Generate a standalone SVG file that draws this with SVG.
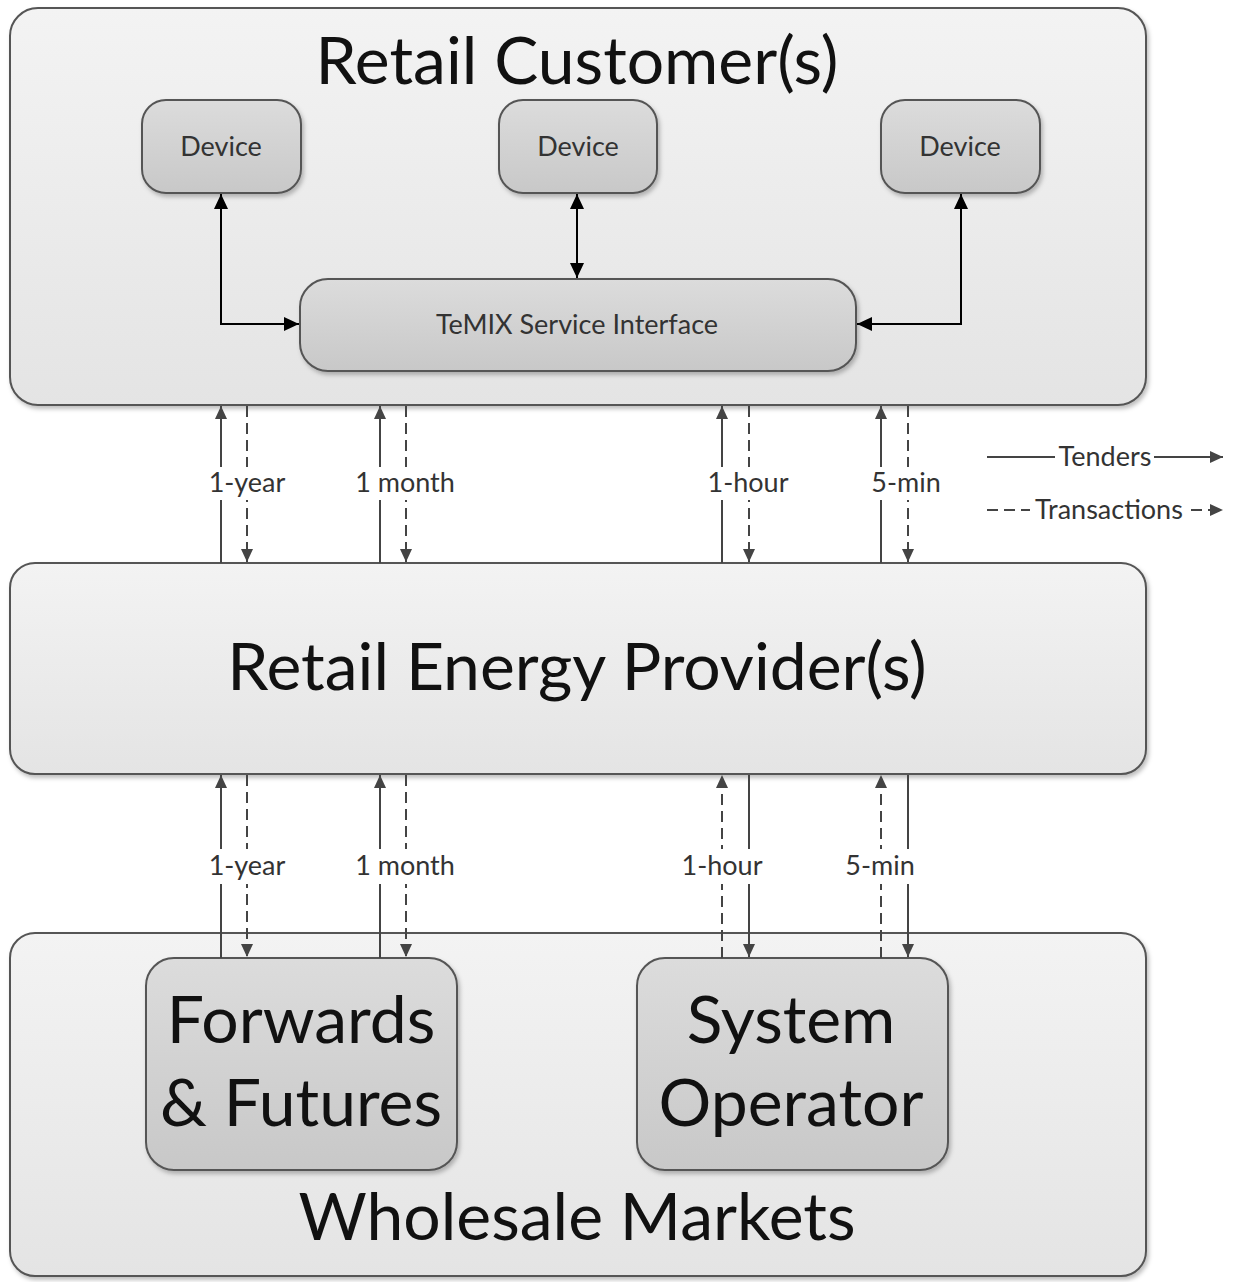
<svg xmlns="http://www.w3.org/2000/svg" width="1236" height="1282" viewBox="0 0 1236 1282">
<style>
.t{font-family:Lato,"Open Sans","Liberation Sans",sans-serif;fill:#111;text-anchor:middle}
.big{font-size:66px}
.sm{font-size:27px;fill:#333}
.lbl{font-size:27px;fill:#333}
.outer{fill:url(#gOuter);stroke:#555;stroke-width:2}
.inner{fill:url(#gInner);stroke:#555;stroke-width:2}
.sol{stroke:#444;stroke-width:2;fill:none}
.dsh{stroke:#444;stroke-width:2;fill:none;stroke-dasharray:11,6}
.blk{stroke:#000;stroke-width:2;fill:none}
</style>
<defs>
<linearGradient id="gOuter" x1="0" y1="0" x2="0" y2="1"><stop offset="0" stop-color="#f3f3f3"/><stop offset="1" stop-color="#e4e4e4"/></linearGradient>
<linearGradient id="gInner" x1="0" y1="0" x2="0" y2="1"><stop offset="0" stop-color="#dcdcdc"/><stop offset="1" stop-color="#c8c8c8"/></linearGradient>
<filter id="sh" x="-5%" y="-5%" width="110%" height="115%"><feDropShadow dx="2" dy="3" stdDeviation="2" flood-color="#000" flood-opacity="0.25"/></filter>
<marker id="ag" markerUnits="userSpaceOnUse" markerWidth="14" markerHeight="14" refX="13" refY="7" orient="auto-start-reverse"><path d="M0,1 L13,7 L0,13 z" fill="#444"/></marker>
<marker id="ab" markerUnits="userSpaceOnUse" markerWidth="16" markerHeight="16" refX="15" refY="8" orient="auto-start-reverse"><path d="M0,1 L15,8 L0,15 z" fill="#000"/></marker>
</defs>
<rect width="1236" height="1282" fill="#fff"/>

<g id="retail-customers">
<rect class="outer" x="10" y="8" width="1136" height="397" rx="28" filter="url(#sh)"/>
<text class="t big" x="577" y="84">Retail Customer(s)</text>
</g>
<g id="device-1"><rect class="inner" x="142" y="100" width="159" height="93" rx="24" filter="url(#sh)"/><text class="t sm" x="221" y="156">Device</text></g>
<g id="device-2"><rect class="inner" x="499" y="100" width="158" height="93" rx="24" filter="url(#sh)"/><text class="t sm" x="578" y="156">Device</text></g>
<g id="device-3"><rect class="inner" x="881" y="100" width="159" height="93" rx="24" filter="url(#sh)"/><text class="t sm" x="960" y="156">Device</text></g>
<g id="temix"><rect class="inner" x="300" y="279" width="556" height="92" rx="28" filter="url(#sh)"/><text class="t sm" x="577" y="334">TeMIX Service Interface</text></g>

<g id="retail-energy-provider">
<rect class="outer" x="10" y="563" width="1136" height="211" rx="25" filter="url(#sh)"/>
<text class="t big" x="577" y="690">Retail Energy Provider(s)</text>
</g>

<g id="wholesale-markets">
<rect class="outer" x="10" y="933" width="1136" height="343" rx="25" filter="url(#sh)"/>
<text class="t big" x="577" y="1240">Wholesale Markets</text>
</g>
<g id="forwards-futures"><rect class="inner" x="146" y="958" width="311" height="212" rx="28" filter="url(#sh)"/><text class="t big" x="301" y="1043">Forwards</text><text class="t big" x="301" y="1126">&amp; Futures</text></g>
<g id="system-operator"><rect class="inner" x="637" y="958" width="311" height="212" rx="28" filter="url(#sh)"/><text class="t big" x="791" y="1043">System</text><text class="t big" x="791" y="1126">Operator</text></g>

<g id="connectors">
<path class="blk" d="M221,194 V324 H299" marker-start="url(#ab)" marker-end="url(#ab)"/>
<path class="blk" d="M577,194 V278" marker-start="url(#ab)" marker-end="url(#ab)"/>
<path class="blk" d="M961,194 V324 H857" marker-start="url(#ab)" marker-end="url(#ab)"/>

<path class="sol" d="M221,563 V406" marker-end="url(#ag)"/>
<path class="dsh" d="M247,406 V562" marker-end="url(#ag)"/>
<path class="sol" d="M380,563 V406" marker-end="url(#ag)"/>
<path class="dsh" d="M406,406 V562" marker-end="url(#ag)"/>
<path class="sol" d="M722,563 V406" marker-end="url(#ag)"/>
<path class="dsh" d="M749,406 V562" marker-end="url(#ag)"/>
<path class="sol" d="M881,563 V406" marker-end="url(#ag)"/>
<path class="dsh" d="M908,406 V562" marker-end="url(#ag)"/>

<path class="sol" d="M221,958 V775" marker-end="url(#ag)"/>
<path class="dsh" d="M247,775 V957" marker-end="url(#ag)"/>
<path class="sol" d="M380,958 V775" marker-end="url(#ag)"/>
<path class="dsh" d="M406,775 V957" marker-end="url(#ag)"/>
<path class="dsh" d="M722,958 V775" marker-end="url(#ag)"/>
<path class="sol" d="M749,775 V957" marker-end="url(#ag)"/>
<path class="dsh" d="M881,958 V775" marker-end="url(#ag)"/>
<path class="sol" d="M908,775 V957" marker-end="url(#ag)"/>

<g fill="#fff">
<rect x="205" y="467" width="84" height="33"/>
<rect x="351" y="467" width="108" height="33"/>
<rect x="704" y="467" width="88" height="33"/>
<rect x="868" y="467" width="76" height="33"/>
<rect x="205" y="849" width="84" height="35"/>
<rect x="351" y="849" width="108" height="35"/>
<rect x="678" y="849" width="88" height="35"/>
<rect x="841" y="849" width="76" height="35"/>
</g>
<text class="t lbl" x="247" y="492">1-year</text>
<text class="t lbl" x="405" y="492">1 month</text>
<text class="t lbl" x="748" y="492">1-hour</text>
<text class="t lbl" x="906" y="492">5-min</text>
<text class="t lbl" x="247" y="875">1-year</text>
<text class="t lbl" x="405" y="875">1 month</text>
<text class="t lbl" x="722" y="875">1-hour</text>
<text class="t lbl" x="880" y="875">5-min</text>
</g>

<g id="legend">
<path class="sol" d="M987,457 H1223" marker-end="url(#ag)"/>
<rect x="1055" y="442" width="99" height="30" fill="#fff"/>
<text class="t lbl" x="1105" y="466">Tenders</text>
<path class="dsh" d="M987,510 H1223" stroke-dasharray="14,5" marker-end="url(#ag)"/>
<rect x="1030" y="495" width="158" height="30" fill="#fff"/>
<text class="t lbl" x="1109" y="519">Transactions</text>
</g>
</svg>
